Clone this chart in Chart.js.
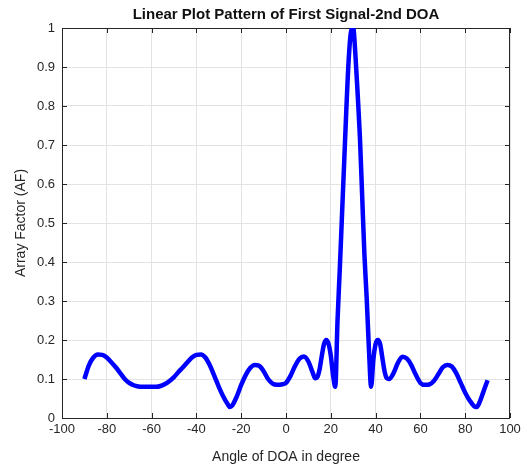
<!DOCTYPE html>
<html>
<head>
<meta charset="utf-8">
<script src="https://cdn.jsdelivr.net/npm/chart.js@4"></script>
<style>
  html, body { margin: 0; padding: 0; background: #fff; }
  #wrap { width: 527px; height: 470px; }
</style>
</head>
<body>
<div id="wrap"><canvas id="myChart" width="527" height="470"></canvas></div>
<script>
// angle of DOA (degree) and array factor
const angulos = [-90, -88, -86, -84, -82, -80, -78, -76, -74, -72, -70, -68, -66, -64, -62, -60,
  -58, -56, -54, -52, -50, -48, -46, -44, -42, -40, -38, -36, -34, -32, -30, -28, -26, -25, -24,
  -22, -20, -18, -16, -14, -12, -10, -8, -6, -4, -2, 0, 2, 4, 6, 8, 10, 12, 13, 14, 15, 16, 17,
  18, 19, 20, 21, 22, 23, 24, 25, 26, 27, 28, 29, 30, 31, 32, 33, 34, 35, 36, 37, 38, 39, 40,
  41, 42, 43, 44, 45, 46, 48, 50, 52, 54, 56, 58, 60, 62, 64, 66, 68, 70, 72, 74, 76, 78, 80,
  82, 84, 85, 86, 88, 90];
const factor = [0.10, 0.135, 0.155, 0.163, 0.162, 0.155, 0.143, 0.13, 0.115, 0.10, 0.09, 0.084,
  0.081, 0.08, 0.08, 0.08, 0.08, 0.082, 0.087, 0.095, 0.105, 0.118, 0.13, 0.143, 0.155, 0.162,
  0.163, 0.155, 0.135, 0.108, 0.08, 0.055, 0.035, 0.028, 0.032, 0.055, 0.085, 0.11, 0.128, 0.136,
  0.134, 0.12, 0.10, 0.088, 0.085, 0.086, 0.09, 0.108, 0.133, 0.152, 0.158, 0.145, 0.115, 0.102,
  0.105, 0.125, 0.16, 0.19, 0.20, 0.19, 0.16, 0.11, 0.08, 0.25, 0.38, 0.52, 0.66, 0.80, 0.92,
  0.99, 1.0, 0.93, 0.83, 0.72, 0.57, 0.42, 0.31, 0.18, 0.08, 0.15, 0.19, 0.20, 0.19, 0.155, 0.12,
  0.102, 0.10, 0.115, 0.142, 0.157, 0.152, 0.135, 0.11, 0.09, 0.085, 0.086, 0.095, 0.112, 0.13,
  0.136, 0.132, 0.115, 0.09, 0.065, 0.045, 0.03, 0.028, 0.035, 0.065, 0.097];

const ticksX = [-100, -80, -60, -40, -20, 0, 20, 40, 60, 80, 100];
const ticksY = [0, 0.1, 0.2, 0.3, 0.4, 0.5, 0.6, 0.7, 0.8, 0.9, 1];

const titulo = "Linear Plot Pattern of First Signal-2nd DOA";
const tituloX = "Angle of DOA in degree";
const tituloY = "Array Factor (AF)";

const fuente = "'Liberation Sans', Arial, sans-serif";
const ctx = document.getElementById("myChart");

const puntos = angulos.map((a, i) => ({ x: a, y: factor[i] }));

// box around the plot with small inward ticks, and title centred on the plot area
const marco = {
  id: "marco",
  beforeDatasetsDraw(chart) {
    const { ctx, chartArea: ca, scales } = chart;
    ctx.save();
    ctx.strokeStyle = "#262626";
    ctx.lineWidth = 1;
    ctx.strokeRect(ca.left + 0.5, ca.top + 0.5, ca.right - ca.left - 1, ca.bottom - ca.top);
    ctx.beginPath();
    ticksX.forEach((v) => {
      const px = Math.round(scales.x.getPixelForValue(v)) + 0.5;
      ctx.moveTo(px, ca.bottom);
      ctx.lineTo(px, ca.bottom - 5);
      ctx.moveTo(px, ca.top);
      ctx.lineTo(px, ca.top + 5);
    });
    ticksY.forEach((v) => {
      const py = Math.round(scales.y.getPixelForValue(v)) + 0.5;
      ctx.moveTo(ca.left, py);
      ctx.lineTo(ca.left + 5, py);
      ctx.moveTo(ca.right, py);
      ctx.lineTo(ca.right - 5, py);
    });
    ctx.stroke();

    ctx.fillStyle = "#111";
    ctx.font = "bold 15px " + fuente;
    ctx.textAlign = "center";
    ctx.textBaseline = "middle";
    ctx.fillText(titulo, (ca.left + ca.right) / 2, 15);
    ctx.restore();
  },
};

new Chart(ctx, {
  type: "line",
  data: {
    datasets: [
      {
        data: puntos,
        borderColor: "#0000ff",
        borderWidth: 4.5,
        pointRadius: 0,
        cubicInterpolationMode: "monotone",
        fill: false,
      },
    ],
  },
  options: {
    responsive: false,
    animation: false,
    layout: { padding: { left: 0, right: 17, top: 28, bottom: 0 } },
    plugins: {
      legend: { display: false },
      tooltip: { enabled: false },
      title: { display: false },
    },
    scales: {
      x: {
        type: "linear",
        min: -100,
        max: 100,
        afterBuildTicks: (s) => { s.ticks = ticksX.map((v) => ({ value: v })); },
        afterFit: (s) => { s.height = 52; },
        ticks: {
          color: "#262626",
          font: { family: fuente, size: 13 },
          padding: 4,
          maxRotation: 0,
        },
        grid: { color: "#e3e3e3", drawTicks: false },
        border: { display: false },
        title: {
          display: true,
          text: tituloX,
          color: "#262626",
          font: { family: fuente, size: 14 },
          padding: { top: 3, bottom: 4 },
        },
      },
      y: {
        type: "linear",
        min: 0,
        max: 1,
        afterBuildTicks: (s) => { s.ticks = ticksY.map((v) => ({ value: v })); },
        afterFit: (s) => { s.width = 62; },
        ticks: {
          color: "#262626",
          font: { family: fuente, size: 13 },
          padding: 7,
          callback: (v) => String(Math.round(v * 10) / 10),
        },
        grid: { color: "#e3e3e3", drawTicks: false },
        border: { display: false },
        title: {
          display: true,
          text: tituloY,
          color: "#262626",
          font: { family: fuente, size: 14 },
          padding: { top: 13, bottom: 4 },
        },
      },
    },
  },
  plugins: [marco],
});
</script>
</body>
</html>
